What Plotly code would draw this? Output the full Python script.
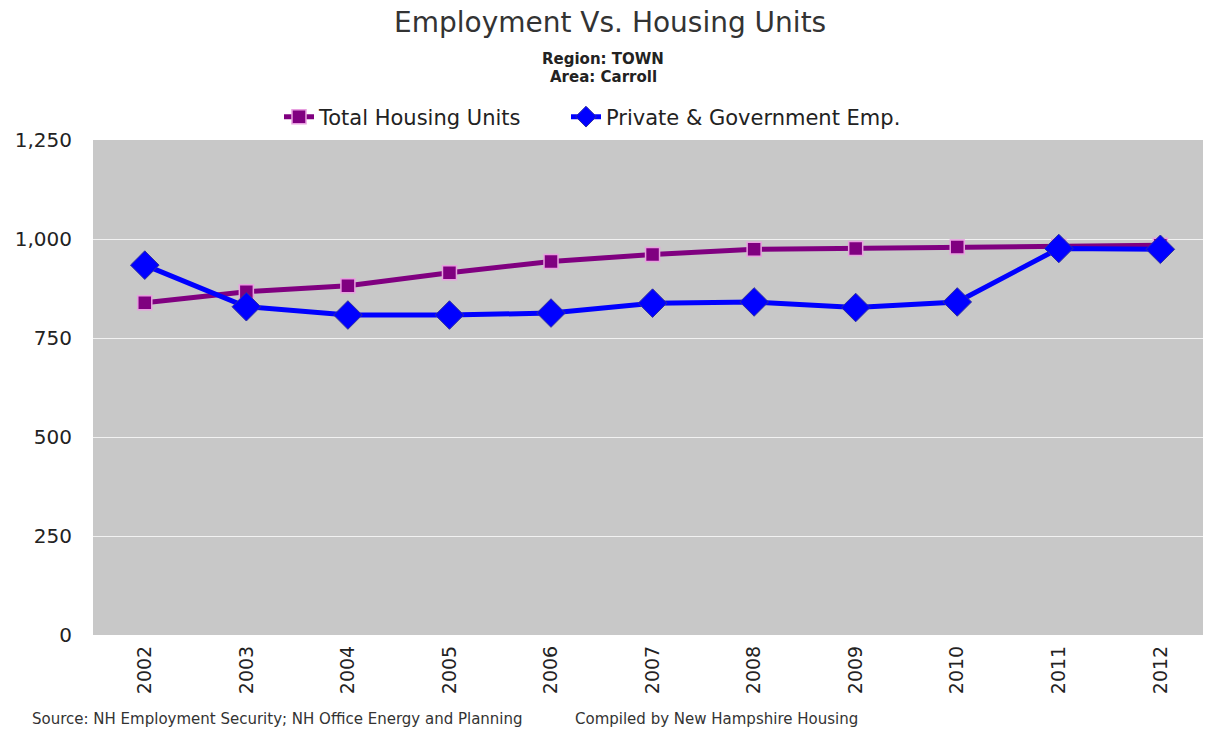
import plotly.graph_objects as go

# Years on the category axis
years = ["2002", "2003", "2004", "2005", "2006", "2007", "2008", "2009", "2010", "2011", "2012"]

# Series values
housing_units = [839, 867, 882, 915, 943, 961, 974, 976, 980, 982, 984]
employment = [934, 829, 808, 808, 813, 838, 841, 827, 841, 976, 974]

# Y axis ticks
y_ticks = [0, 250, 500, 750, 1000, 1250]
y_tick_text = ["0", "250", "500", "750", "1,000", "1,250"]

FONT = "DejaVu Sans"

W, H = 1207, 734
ML, MR, MT, MB = 93, 4, 140, 99
PW, PH = W - ML - MR, H - MT - MB


def px_x(x):
    """Pixel column to paper x coordinate."""
    return (x - ML) / PW


def px_y(y):
    """Pixel row to paper y coordinate."""
    return (H - MB - y) / PH


fig = go.Figure()

fig.add_trace(go.Scatter(
    x=years, y=housing_units, name="Total Housing Units",
    mode="lines+markers",
    line=dict(color="#800080", width=5),
    marker=dict(symbol="square", size=14, color="#800080",
                line=dict(color="#e8a0e0", width=1.5)),
    legend="legend",
))

fig.add_trace(go.Scatter(
    x=years, y=employment, name="Private & Government Emp.",
    mode="lines+markers",
    line=dict(color="#0000ff", width=5),
    marker=dict(symbol="diamond", size=22, color="#0000ff",
                line=dict(color="#3030a0", width=1)),
    legend="legend2",
))

legend_style = dict(
    orientation="h",
    xanchor="left",
    y=px_y(117), yanchor="middle",
    font=dict(size=21, color="#222222"),
    bgcolor="rgba(0,0,0,0)",
)

fig.update_layout(
    width=W, height=H,
    margin=dict(l=ML, r=MR, t=MT, b=MB),
    paper_bgcolor="white",
    plot_bgcolor="#c8c8c8",
    font=dict(family=FONT, color="#222222"),
    showlegend=True,
    legend=dict(x=px_x(279), **legend_style),
    legend2=dict(x=px_x(566), **legend_style),
    xaxis=dict(
        type="category",
        range=[-0.51, 10.42],
        tickangle=-90,
        tickfont=dict(size=19, color="#222222"),
        showgrid=False,
        showline=False,
        ticks="",
        zeroline=False,
        ticklabelstandoff=6,
    ),
    yaxis=dict(
        range=[0, 1250],
        tickvals=y_ticks,
        ticktext=y_tick_text,
        tickfont=dict(size=20, color="#222222"),
        showgrid=True,
        gridcolor="#f2f2f2",
        gridwidth=1,
        zeroline=False,
        showline=False,
        ticks="",
        ticklabelstandoff=20,
    ),
    annotations=[
        dict(text="Employment Vs. Housing Units", xref="paper", yref="paper",
             x=px_x(610), y=px_y(22), xanchor="center", yanchor="middle",
             showarrow=False, font=dict(size=28, color="#333333", family=FONT)),
        dict(text="<b>Region: TOWN</b>", xref="paper", yref="paper",
             x=px_x(603), y=px_y(59), xanchor="center", yanchor="middle",
             showarrow=False, font=dict(size=15, color="#222222", family=FONT)),
        dict(text="<b>Area: Carroll</b>", xref="paper", yref="paper",
             x=px_x(603), y=px_y(77), xanchor="center", yanchor="middle",
             showarrow=False, font=dict(size=15, color="#222222", family=FONT)),
        dict(text="Source: NH Employment Security; NH Office Energy and Planning",
             xref="paper", yref="paper",
             x=px_x(30), y=px_y(719), xanchor="left", yanchor="middle",
             showarrow=False, font=dict(size=15, color="#333333", family=FONT)),
        dict(text="Compiled by New Hampshire Housing",
             xref="paper", yref="paper",
             x=px_x(573), y=px_y(719), xanchor="left", yanchor="middle",
             showarrow=False, font=dict(size=15, color="#333333", family=FONT)),
    ],
)

fig.write_html("out.html")
